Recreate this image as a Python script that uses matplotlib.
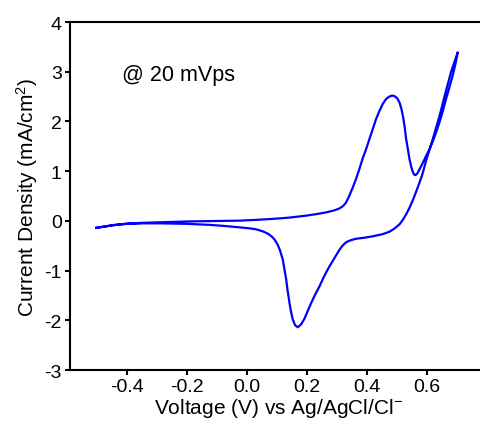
import matplotlib
matplotlib.use('Agg')
from matplotlib import pyplot as plt

plt.rcParams['font.family'] = ['Liberation Sans', 'DejaVu Sans']
plt.rcParams['mathtext.fontset'] = 'custom'
plt.rcParams['mathtext.rm'] = 'Liberation Sans'
plt.rcParams['mathtext.it'] = 'Liberation Sans:italic'
plt.rcParams['axes.unicode_minus'] = False

# anodic sweep (-0.5 V -> 0.7 V)
fwd_v = [-0.503, -0.47, -0.44, -0.40, -0.35, -0.30, -0.20, -0.10, -0.026, 0.03,
         0.085, 0.14, 0.197, 0.23, 0.263, 0.29, 0.308, 0.320, 0.330, 0.341,
         0.352, 0.363, 0.374, 0.385, 0.397, 0.408, 0.419, 0.430, 0.441, 0.452,
         0.463, 0.474, 0.483, 0.491, 0.500, 0.508, 0.514, 0.519, 0.525, 0.530,
         0.536, 0.541, 0.547, 0.552, 0.557, 0.561, 0.567, 0.574, 0.585, 0.597,
         0.608, 0.619, 0.630, 0.641, 0.652, 0.663, 0.674, 0.685, 0.695, 0.702]
fwd_j = [-0.14, -0.11, -0.08, -0.055, -0.04, -0.03, -0.012, -0.002, 0.004, 0.02,
         0.04, 0.065, 0.105, 0.135, 0.17, 0.21, 0.25, 0.30, 0.37, 0.51,
         0.67, 0.84, 1.04, 1.25, 1.45, 1.65, 1.85, 2.05, 2.21, 2.35,
         2.45, 2.50, 2.52, 2.51, 2.47, 2.38, 2.26, 2.12, 1.90, 1.65,
         1.44, 1.25, 1.09, 0.99, 0.93, 0.92, 0.95, 1.03, 1.16, 1.31,
         1.44, 1.60, 1.78, 1.98, 2.20, 2.45, 2.68, 2.92, 3.17, 3.39]

# cathodic sweep (0.7 V -> -0.5 V)
rev_v = [0.702, 0.680, 0.660, 0.641, 0.619, 0.597, 0.585, 0.574, 0.563, 0.552,
         0.541, 0.530, 0.519, 0.508, 0.490, 0.474, 0.450, 0.419, 0.390, 0.363,
         0.345, 0.330, 0.318, 0.308, 0.295, 0.274, 0.258, 0.241, 0.227, 0.213,
         0.200, 0.191, 0.180, 0.169, 0.160, 0.152, 0.146, 0.141, 0.135, 0.130,
         0.124, 0.119, 0.110, 0.102, 0.093, 0.085, 0.070, 0.052, 0.030, 0.008,
         -0.026, -0.08, -0.126, -0.20, -0.292, -0.35, -0.40, -0.45, -0.503]
rev_j = [3.39, 3.00, 2.55, 2.10, 1.65, 1.22, 0.95, 0.76, 0.58, 0.41,
         0.26, 0.13, 0.02, -0.07, -0.16, -0.22, -0.27, -0.31, -0.34, -0.36,
         -0.39, -0.43, -0.50, -0.58, -0.71, -0.92, -1.10, -1.32, -1.48, -1.66,
         -1.84, -1.97, -2.08, -2.14, -2.10, -1.98, -1.82, -1.64, -1.40, -1.17,
         -0.96, -0.78, -0.60, -0.48, -0.39, -0.33, -0.26, -0.21, -0.17, -0.15,
         -0.13, -0.10, -0.08, -0.06, -0.05, -0.05, -0.06, -0.09, -0.14]

fig = plt.figure(figsize=(4.8, 4.35), dpi=100)
ax = fig.add_axes([0.1448, 0.1471, 0.8719, 0.8])

ax.plot(fwd_v + rev_v, fwd_j + rev_j, color='#0000ff', lw=1.6,
        solid_joinstyle='round')

ax.set_xlim(-0.592, 0.803)
ax.set_ylim(-3, 4)
ax.set_xticks([-0.4, -0.2, 0.0, 0.2, 0.4, 0.6])
ax.set_xticklabels(['-0.4', '-0.2', '0.0', '0.2', '0.4', '0.6'])
ax.set_yticks(range(-3, 5))

for s in ['left', 'top', 'bottom', 'right']:
    ax.spines[s].set_linewidth(1.5)
ax.tick_params(direction='out', length=3.6, width=1.5, labelsize=14, pad=2)

ax.set_xlabel('Voltage (V) vs Ag/AgCl/Cl$^{-}$', fontsize=15, labelpad=1)
ax.set_ylabel('Current Density (mA/cm$^{2}$)', fontsize=15, labelpad=3)

ax.text(-0.416, 2.95, '@ 20 mVps', fontsize=15.5, ha='left', va='center')

plt.savefig('out.png', dpi=100)
